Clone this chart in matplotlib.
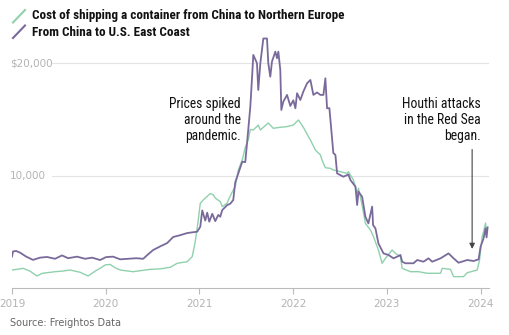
import matplotlib
matplotlib.use("Agg")
import matplotlib.pyplot as plt
from matplotlib import font_manager
from matplotlib.font_manager import FontProperties
from matplotlib.lines import Line2D
from matplotlib.transforms import blended_transform_factory

# Freightos container index, $ per 40ft container
us_years = [
    2019.000, 2019.011, 2019.043, 2019.085, 2019.150, 2019.224, 2019.299, 2019.374,
    2019.459, 2019.534, 2019.598, 2019.694, 2019.780, 2019.855, 2019.940, 2020.004,
    2020.079, 2020.154, 2020.239, 2020.325, 2020.400, 2020.453, 2020.506, 2020.581,
    2020.656, 2020.720, 2020.795, 2020.870, 2020.976, 2021.009, 2021.030, 2021.062,
    2021.083, 2021.105, 2021.137, 2021.169, 2021.201, 2021.222, 2021.244, 2021.297,
    2021.329, 2021.361, 2021.382, 2021.415, 2021.457, 2021.489, 2021.511, 2021.543,
    2021.564, 2021.575, 2021.614, 2021.628, 2021.650, 2021.682, 2021.721, 2021.735,
    2021.756, 2021.774, 2021.810, 2021.828, 2021.842, 2021.863, 2021.874, 2021.895,
    2021.935, 2021.970, 2022.002, 2022.024, 2022.042, 2022.077, 2022.109, 2022.149,
    2022.184, 2022.216, 2022.255, 2022.291, 2022.323, 2022.344, 2022.362, 2022.387,
    2022.408, 2022.429, 2022.451, 2022.469, 2022.536, 2022.590, 2022.611, 2022.665,
    2022.683, 2022.697, 2022.736, 2022.771, 2022.803, 2022.843, 2022.853, 2022.878,
    2022.910, 2022.964, 2023.017, 2023.071, 2023.110, 2023.145, 2023.163, 2023.199,
    2023.284, 2023.324, 2023.391, 2023.444, 2023.484, 2023.573, 2023.658, 2023.712,
    2023.765, 2023.858, 2023.925, 2023.979, 2024.000, 2024.032, 2024.053, 2024.064,
    2024.075,
]
us_east_coast = [
    2800, 3250, 3300, 3150, 2800, 2500, 2700, 2760,
    2600, 2900, 2650, 2790, 2600, 2700, 2490, 2750,
    2790, 2550, 2600, 2650, 2600, 3000, 3380, 3700,
    4000, 4540, 4700, 4890, 5010, 5450, 6900, 6000,
    6700, 5900, 6600, 5950, 6500, 6340, 6940, 7380,
    7500, 7830, 9400, 10200, 11240, 11200, 13170, 16130,
    19100, 20740, 20000, 17620, 20000, 22200, 22200, 20000,
    18800, 20140, 21030, 20440, 21030, 19400, 15840, 16580,
    17180, 16200, 16700, 15990, 17330, 16730, 17480, 18220,
    18510, 17180, 17400, 17180, 17180, 18660, 15990, 16000,
    14000, 12010, 11840, 10200, 9900, 10100, 9610, 9020,
    7380, 8570, 8120, 6340, 5750, 7240, 5600, 5310,
    3970, 3080, 2940, 2640, 2790, 2940, 2340, 2200,
    2200, 2490, 2340, 2640, 2340, 2640, 3080, 2640,
    2250, 2490, 2400, 2550, 3670, 4420, 5310, 4500,
    5400,
]

eu_years = [
    2019.000, 2019.085, 2019.118, 2019.192, 2019.267, 2019.320, 2019.374, 2019.459,
    2019.534, 2019.620, 2019.727, 2019.812, 2019.887, 2019.940, 2019.994, 2020.047,
    2020.100, 2020.154, 2020.293, 2020.474, 2020.581, 2020.688, 2020.763, 2020.870,
    2020.923, 2020.955, 2020.987, 2021.009, 2021.041, 2021.115, 2021.147, 2021.169,
    2021.222, 2021.244, 2021.297, 2021.308, 2021.361, 2021.382, 2021.415, 2021.457,
    2021.489, 2021.521, 2021.543, 2021.575, 2021.628, 2021.650, 2021.735, 2021.788,
    2021.863, 2021.935, 2022.002, 2022.056, 2022.109, 2022.163, 2022.184, 2022.237,
    2022.291, 2022.308, 2022.344, 2022.397, 2022.429, 2022.504, 2022.575, 2022.590,
    2022.643, 2022.683, 2022.697, 2022.736, 2022.771, 2022.825, 2022.857, 2022.910,
    2022.949, 2022.985, 2023.056, 2023.092, 2023.145, 2023.163, 2023.252, 2023.338,
    2023.430, 2023.573, 2023.591, 2023.679, 2023.712, 2023.818, 2023.858, 2023.964,
    2023.989, 2024.017, 2024.032, 2024.053, 2024.064,
]
north_europe = [
    1600, 1700, 1750, 1500, 1070, 1300, 1360, 1450,
    1500, 1600, 1400, 1070, 1500, 1750, 2050, 2100,
    1800, 1600, 1450, 1660, 1700, 1840, 2200, 2340,
    2790, 4120, 6000, 7540, 7830, 8400, 8300, 8000,
    7690, 7240, 7560, 7830, 8720, 9000, 10500, 11390,
    12500, 13170, 14100, 14060, 14500, 14060, 14680, 14210,
    14300, 14360, 14500, 14950, 14300, 13470, 13170, 12280,
    11840, 11390, 10700, 10650, 10500, 10350, 10200, 10350,
    9610, 8420, 8870, 7380, 5750, 5160, 4570, 3380,
    2200, 2640, 3380, 3080, 2790, 1750, 1450, 1450,
    1310, 1310, 1750, 1660, 1010, 1010, 1360, 1600,
    2490, 4570, 5000, 5780, 5000,
]

year_ticks = [2019, 2020, 2021, 2022, 2023, 2024]
grid_values = [10000, 20000]
grid_labels = ["10,000", "$20,000"]

GREEN = "#8fd1ad"
PURPLE = "#7a6a9b"
GREY = "#b3b3b3"


def narrow_font(bold):
    """Look for an installed condensed/narrow sans, else plain Liberation Sans."""
    keys = ["roboto condensed", "liberation sans narrow", "open sans condensed",
            "noto sans condensed", "dejavu sans condensed", "condensed", "narrow"]
    fonts = [f for f in font_manager.fontManager.ttflist
             if f.style == "normal" and (f.weight in ("bold", 700) if bold
                                         else f.weight in ("normal", "regular", 400))]
    for k in keys:
        for f in fonts:
            if k in f.name.lower() or (k == "condensed" and f.stretch == "condensed"):
                return FontProperties(fname=f.fname)
    return FontProperties(family="Liberation Sans", weight="bold" if bold else "normal")


def fit_width(txt, target_px):
    """Scale font size so the text block is target_px wide."""
    r = fig.canvas.get_renderer()
    w = txt.get_window_extent(r).width
    txt.set_fontsize(txt.get_fontsize() * target_px / w)


fig = plt.figure(figsize=(5.09, 3.35), dpi=100)
ax = fig.add_axes([12 / 509, 1 - 288 / 335, 477 / 509, (288 - 29.5) / 335])

ax.plot(eu_years, north_europe, color=GREEN, lw=1.0, zorder=3)
ax.plot(us_years, us_east_coast, color=PURPLE, lw=1.3, zorder=4)

ax.set_xlim(2019.0, 2024.09)
ax.set_ylim(0, 23000)

for v in grid_values:
    ax.axhline(v, xmin=40 / 477, xmax=1.0, color="#e4e4e4", lw=0.8, zorder=0)

trans = blended_transform_factory(fig.transFigure, ax.transData)
for v, lab in zip(grid_values, grid_labels):
    ax.text(10 / 509, v, lab, transform=trans, ha="left", va="center",
            fontsize=7.5, color=GREY)

ax.set_yticks([])
ax.set_xticks(year_ticks)
ax.set_xticklabels([str(y) for y in year_ticks])
ax.tick_params(axis="x", direction="out", length=4, width=0.8, color="#bbbbbb",
               labelcolor=GREY, labelsize=7.5, pad=4)
for side in ["top", "right", "left"]:
    ax.spines[side].set_visible(False)
ax.spines["bottom"].set_color("#bbbbbb")
ax.spines["bottom"].set_linewidth(0.8)

fp_reg = narrow_font(False)
fp_bold = narrow_font(True)

# annotations
t1 = ax.text(2021.443, 17000, "Prices spiked\naround the\npandemic.", ha="right", va="top",
             fontproperties=fp_reg, fontsize=9, color="#111111", linespacing=1.2)
t2 = ax.text(2024.0, 17000, "Houthi attacks\nin the Red Sea\nbegan.", ha="right", va="top",
             fontproperties=fp_reg, fontsize=9, color="#111111", linespacing=1.2)
ax.annotate("", xy=(2023.91, 3230), xytext=(2023.91, 12570),
            arrowprops=dict(arrowstyle="-|>", color="#444444", lw=0.8, mutation_scale=8))

# title / legend
h1 = fig.text(31.7 / 509, 1 - 15 / 335, "Cost of shipping a container from China to Northern Europe",
              ha="left", va="center", fontproperties=fp_bold, fontsize=9.5, color="#111111")
h2 = fig.text(31.7 / 509, 1 - 32.7 / 335, "From China to U.S. East Coast",
              ha="left", va="center", fontproperties=fp_bold, fontsize=9.5, color="#111111")
fig.add_artist(Line2D([13 / 509, 25 / 509], [1 - 22.5 / 335, 1 - 10 / 335],
                      transform=fig.transFigure, color=GREEN, lw=1.5))
fig.add_artist(Line2D([13 / 509, 25 / 509], [1 - 38 / 335, 1 - 25.5 / 335],
                      transform=fig.transFigure, color=PURPLE, lw=1.5))

fig.text(10 / 509, 1 - 322.7 / 335, "Source: Freightos Data", ha="left", va="center",
         fontsize=7, color="#666666")

fig.canvas.draw()
fit_width(h1, 313)
h2.set_fontsize(h1.get_fontsize())
fit_width(t1, 72)
fit_width(t2, 80)

fig.savefig("out.png", dpi=100)
